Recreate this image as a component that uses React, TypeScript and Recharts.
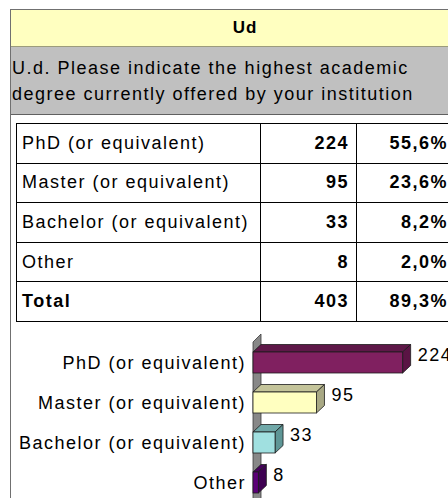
import React from 'react';
import { BarChart, Bar, XAxis, YAxis, LabelList, ReferenceArea } from 'recharts';

const TITLE = 'Ud';
const QUESTION_LINES = [
  'U.d. Please indicate the highest academic',
  'degree currently offered by your institution',
];
const categories = [
  'PhD (or equivalent)',
  'Master (or equivalent)',
  'Bachelor (or equivalent)',
  'Other',
];
const counts = [224, 95, 33, 8];
const percents = [55.6, 23.6, 8.2, 2.0];
const totalLabel = 'Total';
const totalCount = 403;
const totalPercent = 89.3;
const xDomain: [number, number] = [0, 250];

const barColors = [
  { front: '#802060', top: '#5e1848', side: '#5a1444' },
  { front: '#ffffc0', top: '#c4c49a', side: '#a8a884' },
  { front: '#a0e0e0', top: '#70a8a8', side: '#5e9696' },
  { front: '#5c0078', top: '#46005c', side: '#3e0052' },
];

const FONT = "'Liberation Sans', Arial, Helvetica, sans-serif";
const FS = 18;
const LS = 1.5;
const DX = 8;
const DY = 7.5;
const ROW_H = 39.6;

const fmtPct = (v: number) => v.toFixed(1).replace('.', ',') + '%';

const chartData = categories.map((name, i) => ({ name, value: counts[i] }));

const tableRows = [
  ...categories.map((c, i) => ({ label: c, count: counts[i], pct: percents[i], bold: false })),
  { label: totalLabel, count: totalCount, pct: totalPercent, bold: true },
];

const Box3D = (props: any) => {
  const { x, y, width, height, index } = props;
  const c = barColors[index % barColors.length];
  const x1 = x + width;
  const stroke = '#1c1c1c';
  return (
    <g>
      <polygon
        points={`${x},${y} ${x + DX},${y - DY} ${x1 + DX},${y - DY} ${x1},${y}`}
        fill={c.top}
        stroke={stroke}
        strokeWidth={0.8}
      />
      <polygon
        points={`${x1},${y} ${x1 + DX},${y - DY} ${x1 + DX},${y + height - DY} ${x1},${y + height}`}
        fill={c.side}
        stroke={stroke}
        strokeWidth={0.8}
      />
      <rect x={x} y={y} width={width} height={height} fill={c.front} stroke={stroke} strokeWidth={0.8} />
    </g>
  );
};

const Wall = (props: any) => {
  const { x, y, height } = props;
  return (
    <polygon
      points={`${x},${y} ${x + DX},${y - DY - 0.5} ${x + DX},${y + height + 20} ${x},${y + height + 20}`}
      fill="#888888"
      stroke="#3a3a3a"
      strokeWidth={0.8}
    />
  );
};

const ValueLabel = (props: any) => {
  const { x, y, width, height, value } = props;
  return (
    <text
      x={x + width + DX + 7}
      y={y + height / 2 - DY}
      dominantBaseline="central"
      fontFamily={FONT}
      fontSize={FS}
      letterSpacing={LS}
      fill="#000"
    >
      {value}
    </text>
  );
};

const CatTick = (props: any) => {
  const { x, y, payload } = props;
  return (
    <text
      x={x}
      y={y + 1}
      textAnchor="end"
      dominantBaseline="central"
      fontFamily={FONT}
      fontSize={FS}
      letterSpacing={LS}
      fill="#000"
    >
      {payload.value}
    </text>
  );
};

const cellBase: React.CSSProperties = {
  boxSizing: 'border-box',
  borderRight: '1px solid #000',
  borderBottom: '1px solid #000',
  display: 'flex',
  alignItems: 'center',
  whiteSpace: 'nowrap',
  fontSize: FS,
  letterSpacing: LS,
  height: ROW_H,
};

export default function App() {
  return (
    <div
      style={{
        position: 'fixed',
        left: 0,
        top: 0,
        width: 448,
        height: 498,
        overflow: 'hidden',
        background: '#fff',
        fontFamily: FONT,
        color: '#000',
      }}
    >
      {/* outer frame */}
      <div
        style={{
          position: 'absolute',
          left: 10,
          top: 9,
          width: 470,
          height: 520,
          boxSizing: 'border-box',
          border: '1px solid #707070',
        }}
      />
      {/* header */}
      <div
        style={{
          position: 'absolute',
          left: 11,
          top: 10,
          width: 468,
          height: 37,
          background: '#ffffc0',
          borderBottom: '1px solid #9c9c7c',
          boxSizing: 'border-box',
          display: 'flex',
          alignItems: 'center',
          justifyContent: 'center',
          fontWeight: 'bold',
          fontSize: 17,
          letterSpacing: 1,
        }}
      >
        {TITLE}
      </div>
      {/* question band */}
      <div
        style={{
          position: 'absolute',
          left: 11,
          top: 47,
          width: 468,
          height: 68,
          background: '#c0c0c0',
          borderBottom: '1px solid #606060',
          boxSizing: 'border-box',
          paddingTop: 8,
          paddingLeft: 1,
          fontSize: FS,
          letterSpacing: LS,
          lineHeight: '26px',
          whiteSpace: 'nowrap',
        }}
      >
        {QUESTION_LINES.map((l, i) => (
          <div key={i}>{l}</div>
        ))}
      </div>
      {/* table */}
      <div
        style={{
          position: 'absolute',
          left: 16,
          top: 123,
          display: 'grid',
          gridTemplateColumns: '244px 96px 104px',
          borderTop: '1px solid #000',
          borderLeft: '1px solid #000',
        }}
      >
        {tableRows.map((r, i) => (
          <React.Fragment key={i}>
            <div style={{ ...cellBase, paddingLeft: 5, fontWeight: r.bold ? 'bold' : 'normal' }}>{r.label}</div>
            <div style={{ ...cellBase, justifyContent: 'flex-end', paddingRight: 7, fontWeight: 'bold' }}>{r.count}</div>
            <div style={{ ...cellBase, justifyContent: 'flex-end', paddingRight: 12, fontWeight: 'bold' }}>{fmtPct(r.pct)}</div>
          </React.Fragment>
        ))}
      </div>
      {/* chart */}
      <div style={{ position: 'absolute', left: 0, top: 320 }}>
        <BarChart
          width={470}
          height={190}
          data={chartData}
          layout="vertical"
          margin={{ top: 22, right: 50, bottom: 8, left: 0 }}
        >
          <XAxis type="number" domain={xDomain} hide />
          <YAxis
            type="category"
            dataKey="name"
            width={253}
            axisLine={false}
            tickLine={false}
            tickSize={0}
            tickMargin={7}
            interval={0}
            tick={<CatTick />}
          />
          <ReferenceArea x1={0} x2={0} shape={<Wall />} ifOverflow="visible" />
          <Bar dataKey="value" barSize={21} shape={<Box3D />} isAnimationActive={false}>
            <LabelList dataKey="value" content={<ValueLabel />} />
          </Bar>
        </BarChart>
      </div>
    </div>
  );
}
